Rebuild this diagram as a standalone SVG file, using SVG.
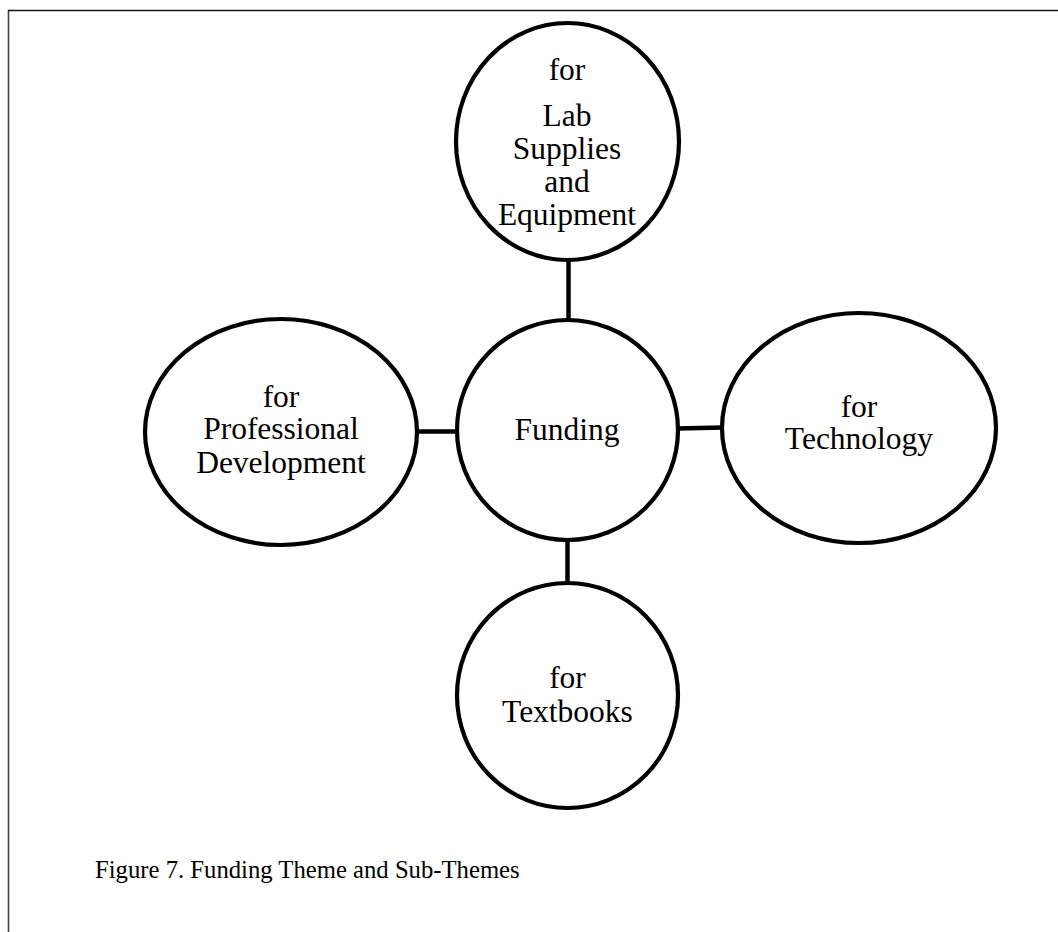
<svg xmlns="http://www.w3.org/2000/svg" width="1058" height="932" viewBox="0 0 1058 932">
<style>
.node{fill:#fff;stroke:#000;stroke-width:4.2}
.conn{stroke:#000;stroke-width:4.5;fill:none}
.t{font-family:"Liberation Serif","Times New Roman",serif;font-size:31.5px;fill:#000;text-anchor:middle}
.cap{font-family:"Liberation Serif","Times New Roman",serif;font-size:24.7px;fill:#000}
</style>
<rect width="1058" height="932" fill="#fff"/>
<g id="frame">
<line x1="8.5" y1="10" x2="8.5" y2="932" stroke="#444" stroke-width="1.6"/>
<line x1="8" y1="10.5" x2="1058" y2="10.5" stroke="#111" stroke-width="1.4"/>
</g>
<g id="connectors">
<line class="conn" x1="568.5" y1="259" x2="568.5" y2="321"/>
<line class="conn" x1="416" y1="431.5" x2="458" y2="431.5"/>
<line class="conn" x1="677" y1="428.5" x2="723" y2="427.5"/>
<line class="conn" x1="567.5" y1="539" x2="567.5" y2="585"/>
</g>
<g id="center">
<ellipse class="node" cx="567.5" cy="430" rx="110.5" ry="110"/>
<text class="t" x="567" y="440">Funding</text>
</g>
<g id="lab">
<ellipse class="node" cx="567.5" cy="141.5" rx="111.5" ry="118.5"/>
<text class="t" x="567" y="80">for</text>
<text class="t" x="567" y="126">Lab</text>
<text class="t" x="567" y="159">Supplies</text>
<text class="t" x="567" y="192">and</text>
<text class="t" x="567" y="225">Equipment</text>
</g>
<g id="professional">
<ellipse class="node" cx="281" cy="432" rx="136" ry="113"/>
<text class="t" x="281" y="407">for</text>
<text class="t" x="281" y="439">Professional</text>
<text class="t" x="281" y="473">Development</text>
</g>
<g id="technology">
<ellipse class="node" cx="859" cy="428" rx="137" ry="115"/>
<text class="t" x="859" y="417">for</text>
<text class="t" x="859" y="449">Technology</text>
</g>
<g id="textbooks">
<ellipse class="node" cx="567.5" cy="695.5" rx="110.5" ry="112.5"/>
<text class="t" x="567.5" y="688">for</text>
<text class="t" x="567.5" y="722">Textbooks</text>
</g>
<text class="cap" x="95" y="878">Figure 7. Funding Theme and Sub-Themes</text>
</svg>
